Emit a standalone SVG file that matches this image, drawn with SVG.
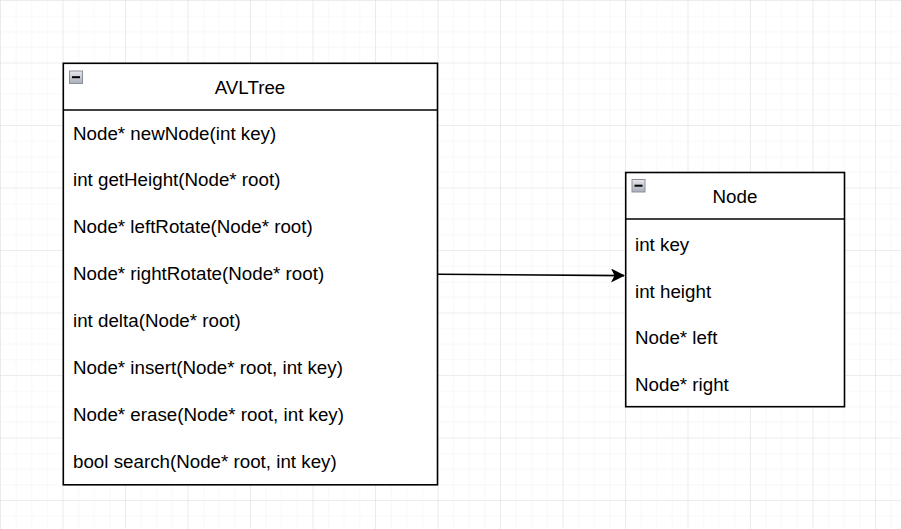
<svg xmlns="http://www.w3.org/2000/svg" width="901" height="529" viewBox="0 0 901 529">
  <defs>
    <pattern id="minor" width="15.625" height="15.625" patternUnits="userSpaceOnUse">
      <path d="M0 0H15.625M0 0V15.625" fill="none" stroke="#f0f0f0" stroke-width="1"/>
    </pattern>
    <pattern id="major" width="62.5" height="62.5" patternUnits="userSpaceOnUse">
      <rect width="62.5" height="62.5" fill="url(#minor)"/>
      <path d="M0 0H62.5M0 0V62.5" fill="none" stroke="#e0e0e0" stroke-width="1"/>
    </pattern>
    <linearGradient id="iconGrad" x1="0" y1="0" x2="0" y2="1">
      <stop offset="0" stop-color="#e8e8ec"/>
      <stop offset="1" stop-color="#a8adb8"/>
    </linearGradient>
    <marker id="arrow" viewBox="0 0 14 14" refX="13" refY="7" markerWidth="14" markerHeight="14" markerUnits="userSpaceOnUse" orient="auto">
      <path d="M0 0 L14 7 L0 14 L3.5 7 Z" fill="#000"/>
    </marker>
  </defs>
  <style>
    .box { fill: #fff; stroke: #000; stroke-width: 1.6; }
    .sep { stroke: #000; stroke-width: 1.6; }
    .t { font-family: "Liberation Sans", Arial, sans-serif; font-size: 18.75px; fill: #000; }
    .h { text-anchor: middle; }
    .icon { fill: url(#iconGrad); stroke: #8a8f9c; stroke-width: 1; }
    .minus { stroke: #000; stroke-width: 2; }
  </style>
  <rect width="901" height="529" fill="#fff"/>
  <rect width="901" height="529" fill="url(#major)"/>

  <g id="connectors">
    <path d="M438 274.3 L624 275.6" fill="none" stroke="#000" stroke-width="1.6" marker-end="url(#arrow)"/>
  </g>

  <g id="AVLTree">
    <rect class="box" x="63.3" y="63.3" width="374.2" height="421.5"/>
    <line class="sep" x1="63.3" y1="110" x2="437.5" y2="110"/>
    <rect class="icon" x="69.5" y="71" width="13" height="12.5"/>
    <line class="minus" x1="72" y1="77.2" x2="80" y2="77.2"/>
    <text class="t h" x="250" y="93.5">AVLTree</text>
    <text class="t" x="73" y="139.5">Node* newNode(int key)</text>
    <text class="t" x="73" y="186.4">int getHeight(Node* root)</text>
    <text class="t" x="73" y="233.3">Node* leftRotate(Node* root)</text>
    <text class="t" x="73" y="280.1">Node* rightRotate(Node* root)</text>
    <text class="t" x="73" y="327">int delta(Node* root)</text>
    <text class="t" x="73" y="373.9">Node* insert(Node* root, int key)</text>
    <text class="t" x="73" y="420.8">Node* erase(Node* root, int key)</text>
    <text class="t" x="73" y="467.6">bool search(Node* root, int key)</text>
  </g>

  <g id="Node">
    <rect class="box" x="625.7" y="172.5" width="218.8" height="234.2"/>
    <line class="sep" x1="625.7" y1="219" x2="844.5" y2="219"/>
    <rect class="icon" x="632" y="179.5" width="13" height="12.5"/>
    <line class="minus" x1="634.5" y1="185.7" x2="642.5" y2="185.7"/>
    <text class="t h" x="735" y="202.5">Node</text>
    <text class="t" x="635" y="250.7">int key</text>
    <text class="t" x="635" y="297.6">int height</text>
    <text class="t" x="635" y="344.4">Node* left</text>
    <text class="t" x="635" y="391.3">Node* right</text>
  </g>
</svg>
